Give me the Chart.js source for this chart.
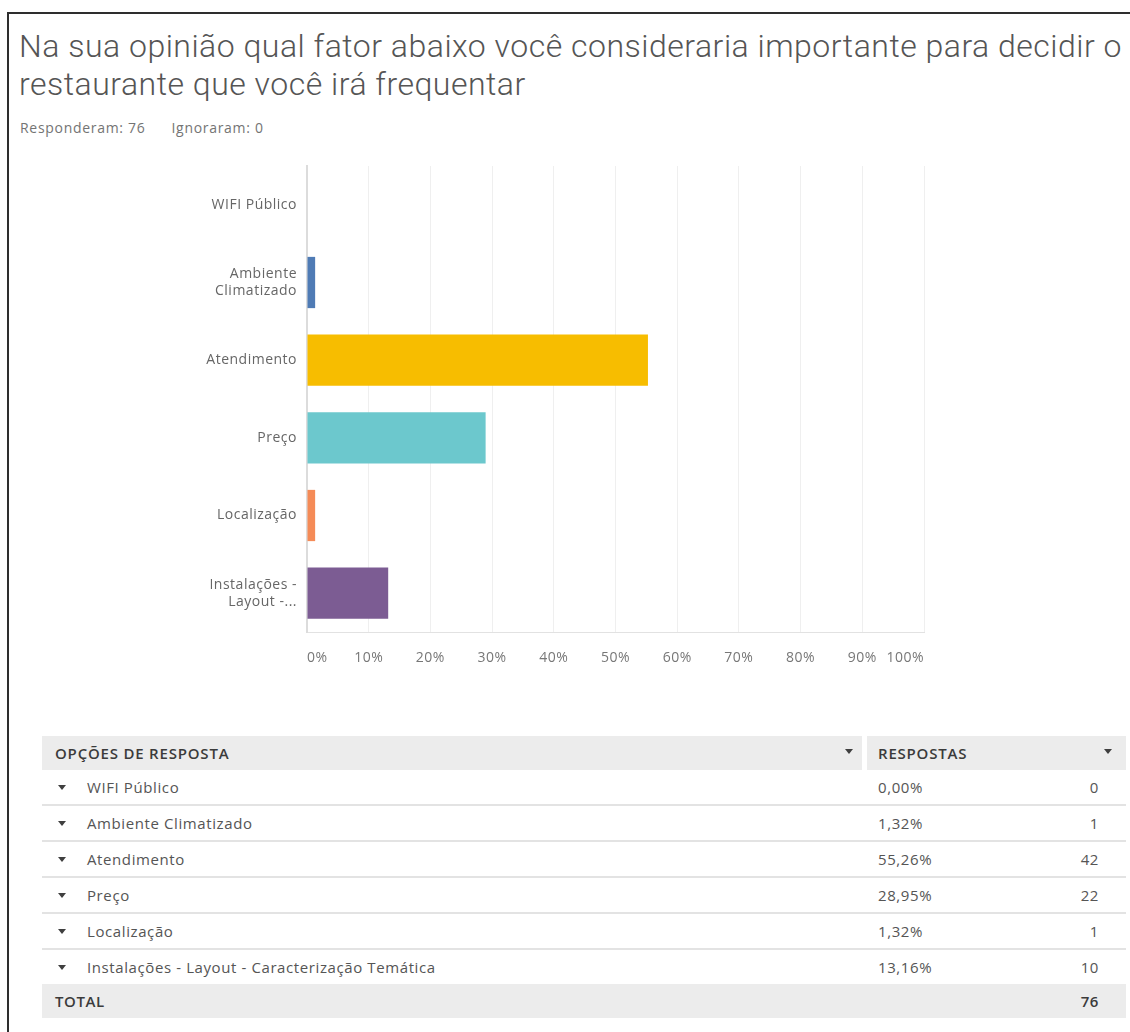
<!DOCTYPE html>
<html lang="pt-BR">
<head>
<meta charset="utf-8">
<title>Fator importante para decidir o restaurante</title>
<script src="https://cdn.jsdelivr.net/npm/chart.js@4.4.1/dist/chart.umd.min.js"></script>
<style>
  html, body { margin: 0; padding: 0; background: #fff; }
  body { width: 1130px; height: 1032px; position: relative; overflow: hidden; font-family: "Open Sans", "Noto Sans", sans-serif; }
  .frame { position: absolute; left: 7px; top: 12px; width: 1200px; height: 1100px; border-left: 2px solid #2e2e2e; border-top: 2px solid #2e2e2e; }
  h1 { position: absolute; left: 19px; top: 27px; margin: 0; width: 1112px; font-family: Roboto, "Open Sans", sans-serif; font-weight: 300; font-size: 32px; line-height: 38px; color: #555; white-space: nowrap; letter-spacing: 0.5px; }
  .meta { position: absolute; left: 20px; top: 119px; font-size: 14px; line-height: 18px; letter-spacing: 0.7px; color: #747474; }
  .meta span + span { margin-left: 26px; }
  .chart-box { position: absolute; left: 150px; top: 150px; width: 800px; height: 530px; }
  table { position: absolute; left: 42px; top: 736px; width: 1084px; border-collapse: collapse; table-layout: fixed; font-size: 15px; letter-spacing: 0.6px; color: #555; }
  th { background: #ececec; height: 34px; text-align: left; font-weight: 600; font-size: 15px; letter-spacing: 0.8px; color: #3b3b3b; text-transform: uppercase; padding: 0; position: relative; }
  th.c1 { padding-left: 13px; }
  th.c1::after { content: ""; position: absolute; right: 0; top: 0; bottom: 0; width: 5px; background: #fff; }
  th.c2 { padding-left: 11px; }
  td { height: 34px; padding: 0; border-bottom: 2px solid #e3e3e3; white-space: nowrap; }
  td.c1 { padding-left: 16px; }
  td.c2 { padding-left: 11px; }
  td.c3 { text-align: right; padding-right: 27px; }
  tr.total td { background: #ececec; border-bottom: none; font-weight: 600; color: #3b3b3b; }
  tr.total td.c1 { padding-left: 13px; }
  tr.last td { border-bottom: none; }
  .tri { display: inline-block; width: 0; height: 0; border-left: 4px solid transparent; border-right: 4px solid transparent; border-top: 5px solid #3f3f3f; vertical-align: middle; margin-right: 21px; position: relative; top: -1px; }
  .th-tri { position: absolute; right: 14px; top: 13px; width: 0; height: 0; border-left: 4px solid transparent; border-right: 4px solid transparent; border-top: 5px solid #3f3f3f; }
  th.c2 .th-tri { right: 14px; }
</style>
</head>
<body>
<div class="frame"></div>
<h1>Na sua opinião qual fator abaixo você consideraria importante para decidir o<br>restaurante que você irá frequentar</h1>
<div class="meta"><span>Responderam: 76</span><span>Ignoraram: 0</span></div>
<div class="chart-box"><canvas id="chart" width="800" height="530"></canvas></div>
<table id="tbl">
  <colgroup><col style="width:825px"><col style="width:199px"><col style="width:60px"></colgroup>
</table>
<script>
// Answer options (full text for the table, wrapped text for the axis)
const options = [
  "WIFI Público",
  "Ambiente Climatizado",
  "Atendimento",
  "Preço",
  "Localização",
  "Instalações - Layout - Caracterização Temática"
];
const axisLabels = [
  "WIFI Público",
  ["Ambiente", "Climatizado"],
  "Atendimento",
  "Preço",
  "Localização",
  ["Instalações -", "Layout -..."]
];
// Responses per option and their share of respondents (%)
const counts = [0, 1, 42, 22, 1, 10];
const percents = [0.00, 1.32, 55.26, 28.95, 1.32, 13.16];
const totalRespondents = 76;
const barColors = ["#4f7bb5", "#4f7bb5", "#f7bd00", "#6cc8cd", "#f58b57", "#7c5c93"];
const xTicks = [0, 10, 20, 30, 40, 50, 60, 70, 80, 90, 100];

const tickFont = { family: "'Open Sans', 'Noto Sans', sans-serif", size: 14 };

// Slightly open letter spacing for the axis text
const spacing = {
  id: "spacing",
  beforeLayout: (chart) => { chart.ctx.letterSpacing = "0.5px"; },
  beforeDraw: (chart) => { chart.ctx.letterSpacing = "0.5px"; }
};

new Chart(document.getElementById("chart"), {
  type: "bar",
  data: {
    labels: axisLabels,
    datasets: [{
      data: percents,
      backgroundColor: barColors,
      borderWidth: 0,
      categoryPercentage: 1,
      barPercentage: 0.66
    }]
  },
  plugins: [spacing],
  options: {
    indexAxis: "y",
    responsive: false,
    animation: false,
    layout: { padding: { top: 16, right: 26, bottom: 0, left: 0 } },
    plugins: { legend: { display: false }, tooltip: { enabled: false } },
    scales: {
      x: {
        min: 0, max: 100,
        afterBuildTicks: (s) => { s.ticks = xTicks.map(v => ({ value: v })); },
        afterFit: (s) => { s.height = 48; },
        ticks: { callback: (v) => v + "%", align: "inner", padding: 18, color: "#777", font: tickFont, maxRotation: 0 },
        grid: { color: "#efefef", lineWidth: 1, drawTicks: false },
        border: { color: "#e2e2e2", width: 1 }
      },
      y: {
        afterFit: (s) => { s.width = 157; s.paddingTop = 0; s.paddingBottom = 0; },
        ticks: { padding: 10, color: "#666", font: tickFont },
        grid: { display: false, drawTicks: false },
        border: { color: "#dcdcdc", width: 2 }
      }
    }
  }
});

// Response table built from the same arrays
const fmtPct = (v) => v.toFixed(2).replace(".", ",") + "%";
let html = '<tr><th class="c1">Opções de resposta<span class="th-tri"></span></th>' +
           '<th class="c2" colspan="2">Respostas<span class="th-tri"></span></th></tr>';
options.forEach((name, i) => {
  html += '<tr' + (i === options.length - 1 ? ' class="last"' : '') + '><td class="c1"><span class="tri"></span>' + name +
          '</td><td class="c2">' + fmtPct(percents[i]) + '</td><td class="c3">' + counts[i] + '</td></tr>';
});
html += '<tr class="total"><td class="c1">TOTAL</td><td class="c2"></td><td class="c3">' + totalRespondents + '</td></tr>';
document.getElementById("tbl").insertAdjacentHTML("beforeend", html);
</script>
</body>
</html>
